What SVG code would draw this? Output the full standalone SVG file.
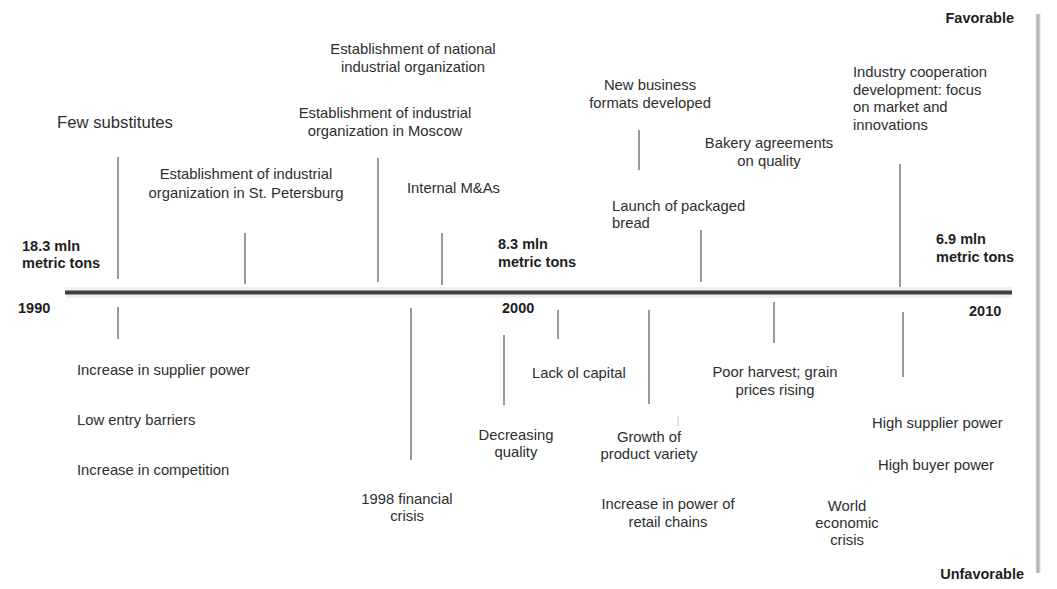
<svg xmlns="http://www.w3.org/2000/svg" width="1057" height="589" viewBox="0 0 1057 589">
<style>
  text { font-family: "Liberation Sans", Arial, sans-serif; fill: #2e2e2e; }
  .t { font-size: 14.8px; }
  .big { font-size: 16.7px; }
  .b { font-size: 14.5px; font-weight: bold; fill: #1e1e1e; }
  .c { text-anchor: middle; }
  .tick { stroke: #9a9a9a; stroke-width: 2; fill: none; }
</style>
<rect width="1057" height="589" fill="#ffffff"/>

<g id="axis">
  <line x1="66" y1="292.5" x2="1012" y2="292.5" stroke="#f0f0f0" stroke-width="11"/>
  <line x1="65" y1="292.5" x2="1012" y2="292.5" stroke="#404040" stroke-width="4"/>
</g>

<g id="scale">
  <line x1="1038" y1="14" x2="1038" y2="573" stroke="#ececec" stroke-width="6"/>
  <line x1="1038" y1="14" x2="1038" y2="573" stroke="#b4b4b4" stroke-width="3"/>
  <text class="b" x="1014" y="23" text-anchor="end">Favorable</text>
  <text class="b" x="1024" y="579" text-anchor="end">Unfavorable</text>
</g>

<g id="connectors">
  <!-- above axis -->
  <line class="tick" x1="118" y1="157" x2="118" y2="279"/>
  <line class="tick" x1="245" y1="233" x2="245" y2="284"/>
  <line class="tick" x1="378" y1="158" x2="378" y2="282"/>
  <line class="tick" x1="442" y1="233" x2="442" y2="285"/>
  <line class="tick" x1="639" y1="130" x2="639" y2="170"/>
  <line class="tick" x1="701" y1="230" x2="701" y2="282"/>
  <line class="tick" x1="900" y1="164" x2="900" y2="287"/>
  <!-- below axis -->
  <line class="tick" x1="118" y1="307" x2="118" y2="339"/>
  <line class="tick" x1="411" y1="308" x2="411" y2="460"/>
  <line class="tick" x1="504" y1="335" x2="504" y2="405"/>
  <line class="tick" x1="558" y1="310" x2="558" y2="339"/>
  <line class="tick" x1="649" y1="310" x2="649" y2="404"/>
  <line class="tick" x1="774" y1="302" x2="774" y2="343"/>
  <line class="tick" x1="903" y1="312" x2="903" y2="377"/>
  <line x1="678" y1="416" x2="678" y2="426" stroke="#e2e2e2" stroke-width="2"/>
</g>

<g id="year-1990">
  <text class="b" x="22" y="251">18.3 mln</text>
  <text class="b" x="22" y="268">metric tons</text>
  <text class="b" x="18" y="313">1990</text>
</g>
<g id="year-2000">
  <text class="b" x="498" y="249">8.3 mln</text>
  <text class="b" x="498" y="267">metric tons</text>
  <text class="b" x="502" y="313">2000</text>
</g>
<g id="year-2010">
  <text class="b" x="936" y="244">6.9 mln</text>
  <text class="b" x="936" y="262">metric tons</text>
  <text class="b" x="969" y="316">2010</text>
</g>

<g id="few-substitutes">
  <text class="big" x="57" y="128">Few substitutes</text>
</g>
<g id="st-petersburg">
  <text class="t c" x="246" y="179">Establishment of industrial</text>
  <text class="t c" x="246" y="198">organization in St. Petersburg</text>
</g>
<g id="national-org">
  <text class="t c" x="413" y="54">Establishment of national</text>
  <text class="t c" x="413" y="72">industrial organization</text>
</g>
<g id="moscow-org">
  <text class="t c" x="385" y="118">Establishment of industrial</text>
  <text class="t c" x="385" y="136">organization in Moscow</text>
</g>
<g id="internal-ma">
  <text class="t" x="407" y="193">Internal M&amp;As</text>
</g>
<g id="new-formats">
  <text class="t c" x="650" y="90">New business</text>
  <text class="t c" x="650" y="108">formats developed</text>
</g>
<g id="packaged-bread">
  <text class="t" x="612" y="211">Launch of packaged</text>
  <text class="t" x="612" y="228">bread</text>
</g>
<g id="bakery-agreements">
  <text class="t c" x="769" y="148">Bakery agreements</text>
  <text class="t c" x="769" y="166">on quality</text>
</g>
<g id="industry-cooperation">
  <text class="t" x="853" y="77">Industry cooperation</text>
  <text class="t" x="853" y="95">development: focus</text>
  <text class="t" x="853" y="112">on market and</text>
  <text class="t" x="853" y="130">innovations</text>
</g>

<g id="early-90s">
  <text class="t" x="77" y="375">Increase in supplier power</text>
  <text class="t" x="77" y="425">Low entry barriers</text>
  <text class="t" x="77" y="475">Increase in competition</text>
</g>
<g id="financial-crisis-1998">
  <text class="t c" x="407" y="504">1998 financial</text>
  <text class="t c" x="407" y="521">crisis</text>
</g>
<g id="decreasing-quality">
  <text class="t c" x="516" y="440">Decreasing</text>
  <text class="t c" x="516" y="457">quality</text>
</g>
<g id="lack-capital">
  <text class="t" x="532" y="378">Lack ol capital</text>
</g>
<g id="product-variety">
  <text class="t c" x="649" y="442">Growth of</text>
  <text class="t c" x="649" y="459">product variety</text>
</g>
<g id="retail-chains">
  <text class="t c" x="668" y="509">Increase in power of</text>
  <text class="t c" x="668" y="527">retail chains</text>
</g>
<g id="poor-harvest">
  <text class="t c" x="775" y="377">Poor harvest; grain</text>
  <text class="t c" x="775" y="395">prices rising</text>
</g>
<g id="world-crisis">
  <text class="t c" x="847" y="511">World</text>
  <text class="t c" x="847" y="528">economic</text>
  <text class="t c" x="847" y="545">crisis</text>
</g>
<g id="late-2000s">
  <text class="t" x="872" y="428">High supplier power</text>
  <text class="t" x="878" y="470">High buyer power</text>
</g>
</svg>
